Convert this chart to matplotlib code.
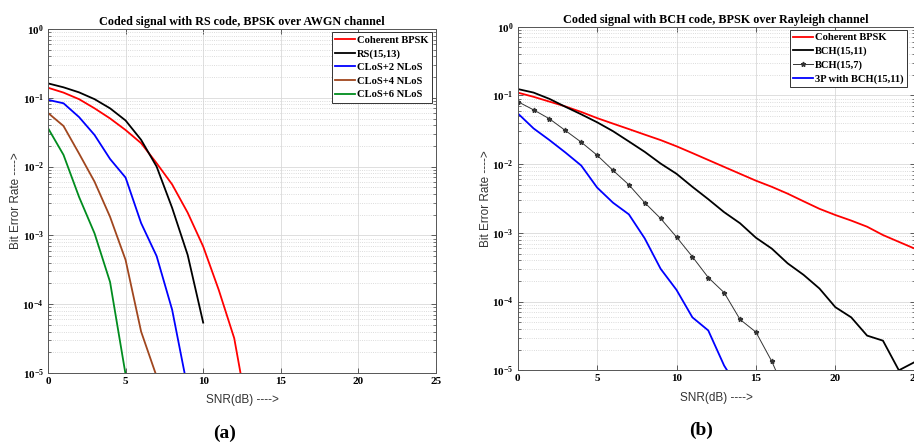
import numpy as np
import matplotlib
matplotlib.use("Agg")
import matplotlib.pyplot as plt
from matplotlib.ticker import FixedLocator, FuncFormatter, LogLocator, NullFormatter

plt.rcParams['mathtext.fontset'] = 'custom'
plt.rcParams['mathtext.rm'] = 'Liberation Serif'
plt.rcParams['mathtext.bf'] = 'Liberation Serif:bold'

# ---- panel (a): RS code over AWGN ----
snr_a_bpsk = list(range(0, 14))
ber_a_bpsk = [0.140, 0.119, 0.0955, 0.0703, 0.0501, 0.0340, 0.0219, 0.0112, 0.0055,
              0.00214, 6.9e-4, 1.62e-4, 3.2e-5, 1.8e-6]
snr_a_rs = list(range(0, 11))
ber_a_rs = [0.162, 0.142, 0.120, 0.0955, 0.0703, 0.0468, 0.0245, 0.0100, 0.00251,
            5.2e-4, 5.4e-5]
snr_a_n2 = list(range(0, 10))
ber_a_n2 = [0.0933, 0.0832, 0.0525, 0.0288, 0.0129, 0.00692, 0.00151, 5.0e-4, 8.3e-5, 5.9e-6]
snr_a_n4 = list(range(0, 8))
ber_a_n4 = [0.0603, 0.0389, 0.0155, 0.00603, 0.00186, 4.4e-4, 4.0e-5, 8.9e-6]
snr_a_n6 = list(range(0, 6))
ber_a_n6 = [0.0363, 0.0148, 0.00363, 0.00107, 2.1e-4, 9.5e-6]
labels_a = ['Coherent BPSK', 'RS(15,13)', 'CLoS+2 NLoS', 'CLoS+4 NLoS', 'CLoS+6 NLoS']
colors_a = ['#ff0000', '#000000', '#0000ff', '#a0461e', '#008c1e']

# ---- panel (b): BCH code over Rayleigh ----
snr_b_bpsk = list(range(0, 26))
ber_b_bpsk = [0.110, 0.0955, 0.0813, 0.0692, 0.0575, 0.0468, 0.0389, 0.0324, 0.0269,
              0.0224, 0.0182, 0.0145, 0.0115, 0.00912, 0.00724, 0.00575, 0.00468,
              0.00372, 0.00288, 0.00224, 0.00182, 0.00151, 0.00123, 9.3e-4, 7.4e-4, 5.9e-4]
snr_b_1511 = list(range(0, 26))
ber_b_1511 = [0.124, 0.110, 0.0891, 0.0684, 0.0531, 0.0407, 0.0302, 0.0214, 0.0151,
              0.0102, 0.00724, 0.00468, 0.00309, 0.00200, 0.00138, 8.5e-4, 5.9e-4,
              3.6e-4, 2.45e-4, 1.55e-4, 8.3e-5, 5.9e-5, 3.2e-5, 2.7e-5, 1.0e-5, 1.32e-5]
snr_b_157 = list(range(0, 18))
ber_b_157 = [0.0813, 0.0617, 0.0457, 0.0309, 0.0209, 0.0135, 0.00813, 0.00501, 0.00275,
             0.00162, 8.7e-4, 4.5e-4, 2.24e-4, 1.35e-4, 5.5e-5, 3.6e-5, 1.35e-5, 4.0e-6]
snr_b_3p = list(range(0, 15))
ber_b_3p = [0.0550, 0.0331, 0.0224, 0.0148, 0.00955, 0.00457, 0.00275, 0.00186, 8.3e-4,
            3.0e-4, 1.48e-4, 5.9e-5, 3.8e-5, 1.17e-5, 5.0e-6]
labels_b = ['Coherent BPSK', 'BCH(15,11)', 'BCH(15,7)', '3P with BCH(15,11)']

x_ticks = [0, 5, 10, 15, 20, 25]
y_decades = [1e-5, 1e-4, 1e-3, 1e-2, 1e-1, 1e0]

serif = 'Liberation Serif'
sans = 'Liberation Sans'


def dec_fmt(v, pos):
    e = int(round(np.log10(v)))
    return r'$\mathbf{10^{%d}}$' % e


def style_axes(ax, title):
    ax.set_yscale('log')
    ax.set_xlim(0, 25)
    ax.set_ylim(1e-5, 1)
    ax.xaxis.set_major_locator(FixedLocator(x_ticks))
    ax.yaxis.set_major_locator(FixedLocator(y_decades))
    ax.yaxis.set_minor_locator(LogLocator(base=10, subs=np.arange(2, 10)))
    ax.yaxis.set_minor_formatter(NullFormatter())
    ax.yaxis.set_major_formatter(FuncFormatter(dec_fmt))
    for lab in ax.get_xticklabels():
        lab.set_fontfamily(serif)
        lab.set_fontweight('bold')
    ax.tick_params(which='both', direction='in', top=True, right=True,
                   labelsize=8, colors='#444444', labelcolor='black', pad=3)
    ax.tick_params(which='major', length=3.5, width=0.6)
    ax.tick_params(which='minor', length=2, width=0.5)
    ax.grid(True, which='major', color='#d9d9d9', linewidth=0.6)
    ax.grid(True, which='minor', axis='y', color='#d0d0d0', linestyle=':', linewidth=0.6)
    ax.set_axisbelow(True)
    for s in ax.spines.values():
        s.set_color('#555555')
        s.set_linewidth(0.7)
    ax.set_title(title, fontfamily=serif, fontweight='bold', fontsize=8.7, pad=3)
    ax.set_xlabel('SNR(dB) ---->', fontfamily=sans, fontsize=8.5, labelpad=6, color='#333333')
    ax.set_ylabel('Bit Error Rate ---->', fontfamily=sans, fontsize=8.5, labelpad=0, color='#333333')


fig = plt.figure(figsize=(9.14, 4.46), dpi=100)
ax1 = fig.add_axes([0.0525, 0.1637, 0.4245, 0.7713])
ax2 = fig.add_axes([0.5664, 0.1697, 0.4344, 0.7704])

series_a = [(snr_a_bpsk, ber_a_bpsk), (snr_a_rs, ber_a_rs), (snr_a_n2, ber_a_n2),
            (snr_a_n4, ber_a_n4), (snr_a_n6, ber_a_n6)]
for (x, y), lab, c in zip(series_a, labels_a, colors_a):
    ax1.plot(x, y, color=c, linewidth=1.3, label=lab)
style_axes(ax1, 'Coded signal with RS code, BPSK over AWGN channel')

ax2.plot(snr_b_bpsk, ber_b_bpsk, color='#ff0000', linewidth=1.3, label=labels_b[0])
ax2.plot(snr_b_1511, ber_b_1511, color='#000000', linewidth=1.3, label=labels_b[1])
ax2.plot(snr_b_157, ber_b_157, color='#333333', linewidth=0.7, marker='*',
         markersize=3.5, markerfacecolor='#333333', label=labels_b[2])
ax2.plot(snr_b_3p, ber_b_3p, color='#0000ff', linewidth=1.3, label=labels_b[3])
style_axes(ax2, 'Coded signal with BCH code, BPSK over Rayleigh channel')

for ax, off in ((ax1, 0.003), (ax2, 0.012)):
    leg = ax.legend(loc='upper right', prop={'family': serif, 'weight': 'bold', 'size': 7.6},
                    fancybox=False, framealpha=1, edgecolor='#333333',
                    borderaxespad=0.3, handlelength=1.9, handletextpad=0.15,
                    labelspacing=0.4, borderpad=0.3, bbox_to_anchor=(1 - off, 1))
    leg.get_frame().set_linewidth(0.7)

fig.text(0.246, 0.029, '(a)', fontfamily=serif, fontweight='bold', fontsize=14,
         ha='center', va='center')
fig.text(0.767, 0.036, '(b)', fontfamily=serif, fontweight='bold', fontsize=14,
         ha='center', va='center')

fig.savefig('out.png', dpi=100)
